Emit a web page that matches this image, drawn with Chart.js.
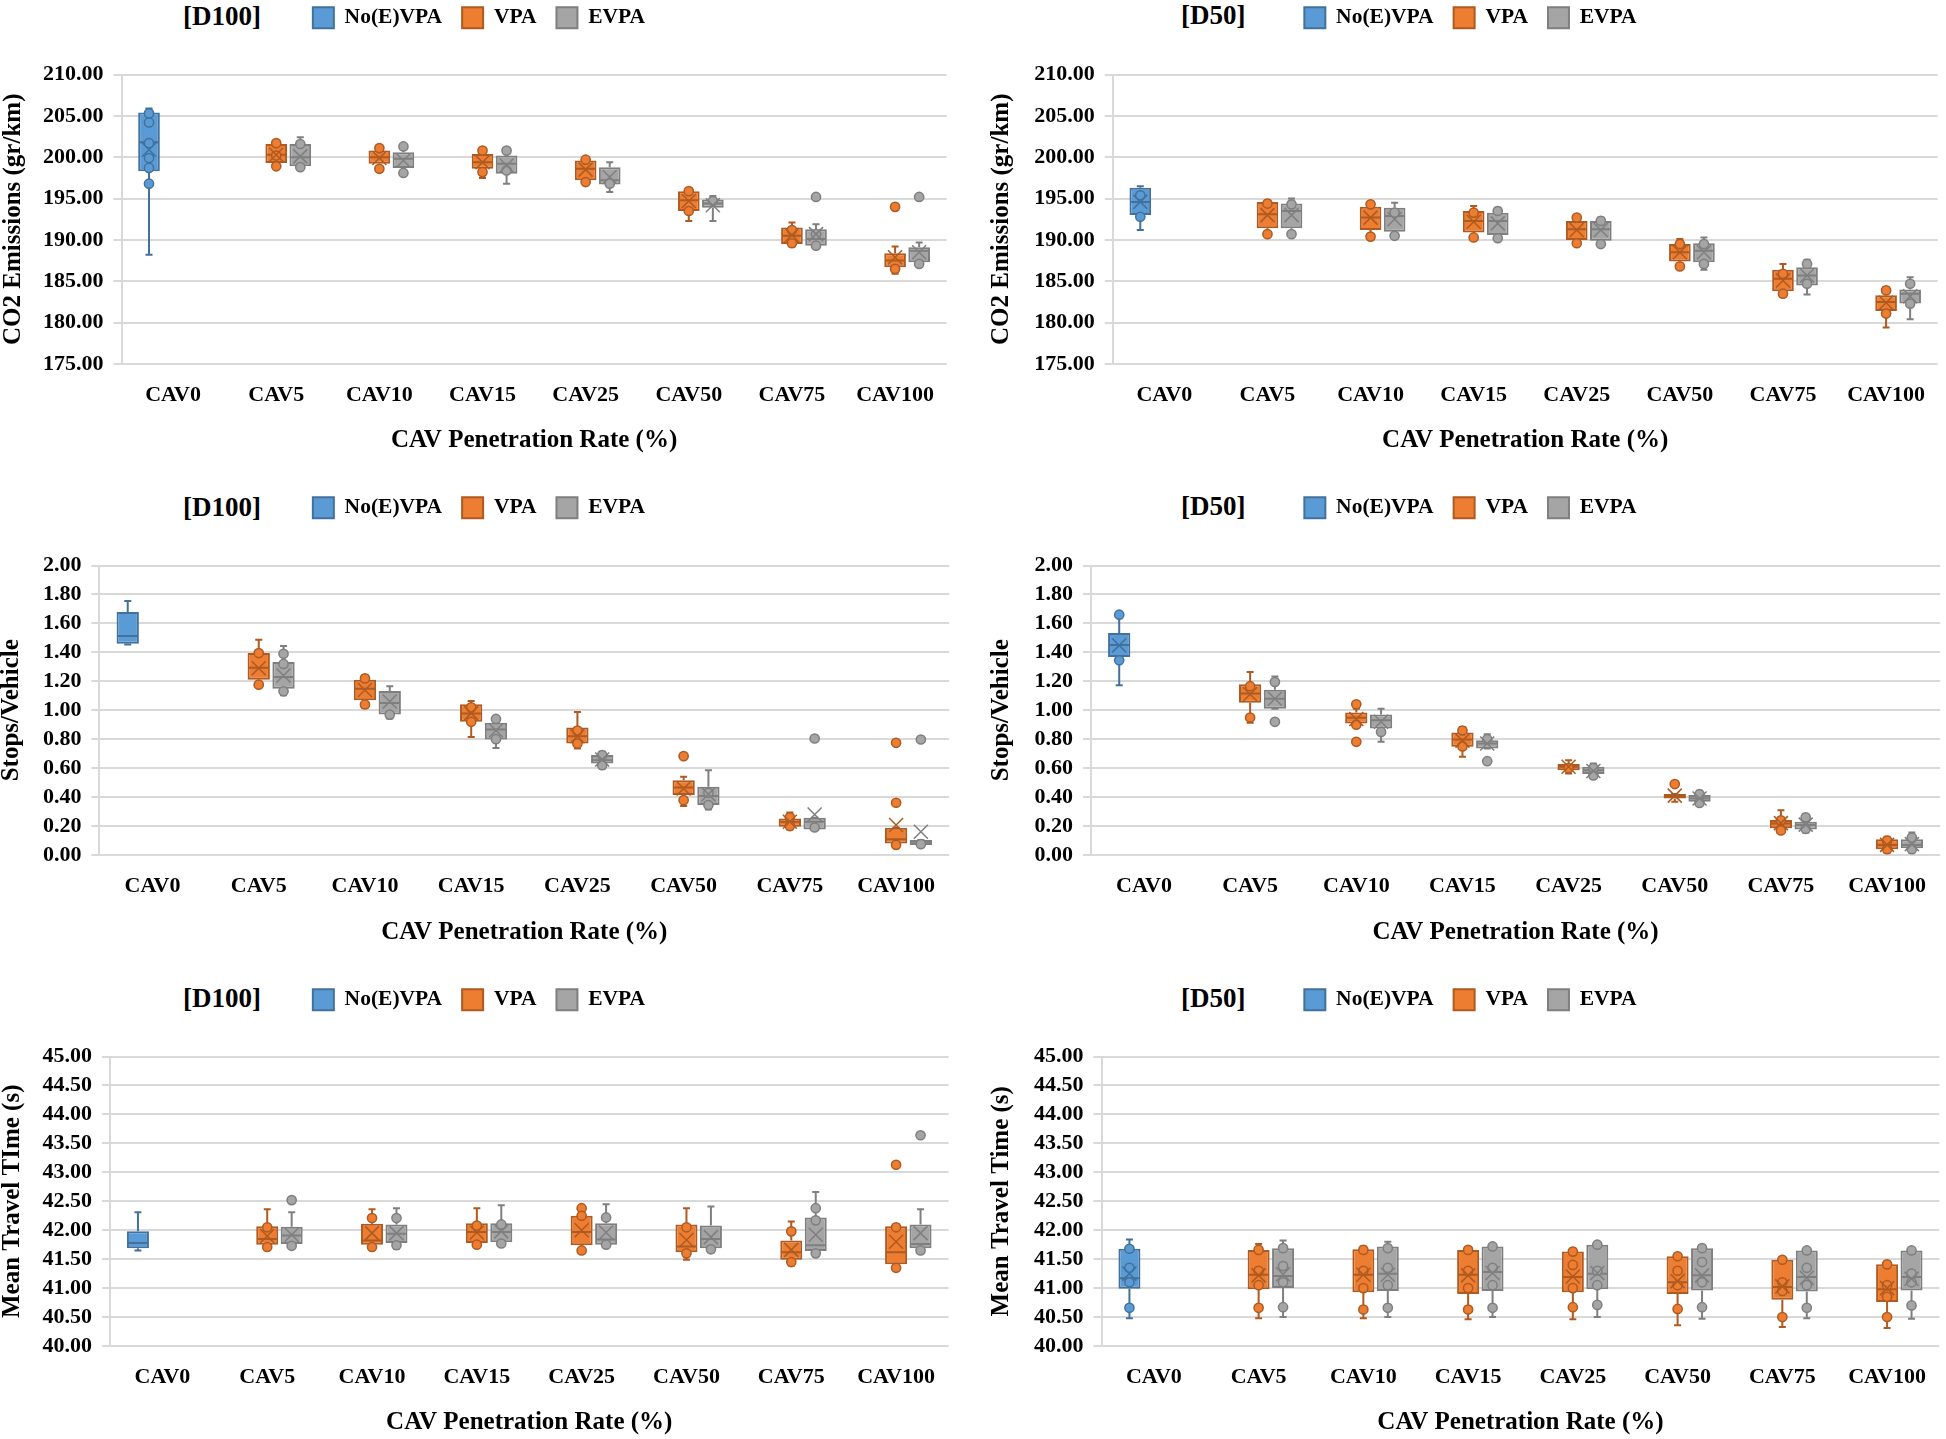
<!DOCTYPE html>
<html>
<head>
<meta charset="utf-8">
<script src="https://cdn.jsdelivr.net/npm/chart.js@4.4.1/dist/chart.umd.min.js"></script>
<style>
  body { margin: 0; background: #fff; }
  #page { position: relative; width: 1946px; height: 1439px; overflow: hidden; background: #fff; }
  canvas { position: absolute; }
  .tag { position: absolute; font: bold 27px "Liberation Serif", "Times New Roman", serif; line-height: 27px; color: #000; white-space: nowrap; }
</style>
</head>
<body>
<div id="page">
  <div class="tag" style="left:183px;top:3px">[D100]</div>
  <div class="tag" style="left:1181px;top:2px">[D50]</div>
  <div class="tag" style="left:183px;top:494px">[D100]</div>
  <div class="tag" style="left:1181px;top:493px">[D50]</div>
  <div class="tag" style="left:183px;top:985px">[D100]</div>
  <div class="tag" style="left:1181px;top:985px">[D50]</div>
  <canvas id="co2D100"></canvas>
  <canvas id="co2D50"></canvas>
  <canvas id="stopsD100"></canvas>
  <canvas id="stopsD50"></canvas>
  <canvas id="ttD100"></canvas>
  <canvas id="ttD50"></canvas>
</div>
<script>
const categories = ["CAV0", "CAV5", "CAV10", "CAV15", "CAV25", "CAV50", "CAV75", "CAV100"];
const seriesNames = ["No(E)VPA", "VPA", "EVPA"];

// box rows: [min, q1, median, q3, max, mean]
const co2D100Base = [[188.2, 198.3, 201.8, 205.4, 205.9, 200.9], null, null, null, null, null, null, null];
const co2D100Vpa = [null, [198.8, 199.3, 200.3, 201.6, 201.9, 200.3], [198.2, 199.2, 200.0, 200.8, 201.2, 199.9], [197.5, 198.6, 199.4, 200.4, 200.9, 199.4], [196.8, 197.2, 198.6, 199.6, 199.8, 198.5], [192.3, 193.5, 194.8, 195.9, 196.0, 194.7], [189.2, 189.5, 190.5, 191.5, 192.1, 190.6], [185.9, 186.7, 187.5, 188.4, 189.2, 187.9]];
const co2D100Evpa = [null, [198.6, 198.9, 200.0, 201.6, 202.4, 200.1], [198.0, 198.7, 199.8, 200.6, 201.3, 199.6], [196.8, 198.0, 199.2, 200.2, 200.8, 199.0], [195.8, 196.7, 197.2, 198.8, 199.4, 197.6], [192.3, 193.9, 194.4, 194.9, 195.3, 194.2], [189.1, 189.3, 190.1, 191.3, 191.9, 190.7], [186.9, 187.3, 188.7, 189.1, 189.7, 188.5]];
const co2D100BasePts = [[196.8, 198.7, 199.9, 201.7, 204.2, 205.3], [], [], [], [], [], [], []];
const co2D100VpaPts = [[], [201.7, 198.9, 200.2], [201.1, 198.6], [200.8, 198.2], [199.7, 197.0], [195.9, 193.5], [191.2, 189.6], [194.0, 186.5]];
const co2D100EvpaPts = [[], [201.6, 198.8], [201.3, 198.1], [200.8, 198.4], [196.8], [194.7], [195.2, 190.7, 189.3], [195.2, 187.1]];

const co2D50Base = [[191.2, 193.0, 194.6, 196.3, 196.5, 194.6], null, null, null, null, null, null, null];
const co2D50Vpa = [null, [190.7, 191.4, 193.1, 194.6, 194.8, 193.0], [190.4, 191.2, 192.7, 194.0, 194.4, 192.7], [190.3, 190.9, 192.3, 193.5, 194.1, 192.2], [189.6, 190.0, 191.3, 192.3, 192.9, 191.2], [186.5, 187.4, 188.5, 189.5, 190.1, 188.5], [183.1, 183.8, 185.3, 186.4, 187.1, 185.1], [179.4, 181.4, 182.5, 183.3, 184.3, 182.4]];
const co2D50Evpa = [null, [190.6, 191.4, 193.5, 194.4, 195.0, 193.0], [190.5, 191.0, 192.9, 193.9, 194.5, 192.5], [190.2, 190.6, 192.3, 193.3, 193.9, 192.0], [189.5, 189.9, 191.3, 192.3, 192.7, 191.2], [186.4, 187.3, 188.7, 189.6, 190.3, 188.5], [183.4, 184.5, 185.7, 186.7, 187.6, 185.7], [180.4, 182.3, 183.5, 184.0, 185.5, 183.2]];
const co2D50BasePts = [[195.4, 192.8], [], [], [], [], [], [], []];
const co2D50VpaPts = [[], [194.4, 190.7], [194.3, 190.4], [193.3, 190.3], [192.7, 189.6], [189.5, 186.8], [185.9, 183.5], [183.9, 181.1]];
const co2D50EvpaPts = [[], [194.3, 190.7], [193.3, 190.5], [193.5, 190.2], [192.3, 189.5], [189.5, 187.1], [187.1, 184.7], [184.7, 182.3]];

const stopsD100Base = [[1.455, 1.46, 1.513, 1.678, 1.754, null], null, null, null, null, null, null, null];
const stopsD100Vpa = [null, [1.17, 1.211, 1.294, 1.395, 1.487, 1.29], [1.016, 1.069, 1.149, 1.211, 1.241, 1.14], [0.816, 0.92, 0.977, 1.041, 1.064, 0.98], [0.736, 0.77, 0.821, 0.88, 0.988, 0.82], [0.338, 0.414, 0.467, 0.517, 0.54, 0.46], [0.177, 0.195, 0.23, 0.253, 0.294, 0.23], [0.057, 0.08, 0.108, 0.188, 0.188, 0.207]];
const stopsD100Evpa = [null, [1.103, 1.149, 1.23, 1.333, 1.444, 1.24], [0.943, 0.97, 1.05, 1.133, 1.166, 1.06], [0.74, 0.798, 0.867, 0.913, 0.949, 0.86], [0.598, 0.632, 0.655, 0.69, 0.713, 0.66], [0.315, 0.345, 0.407, 0.471, 0.586, 0.42], [0.177, 0.177, 0.23, 0.257, 0.257, 0.28], [0.06, 0.069, 0.092, 0.103, 0.103, 0.161]];
const stopsD100BasePts = [[], [], [], [], [], [], [], []];
const stopsD100VpaPts = [[], [1.395, 1.177], [1.22, 1.04], [1.02, 0.92], [0.86, 0.77], [0.683, 0.379], [0.26, 0.2], [0.775, 0.361, 0.07]];
const stopsD100EvpaPts = [[], [1.39, 1.32, 1.131], [0.97], [0.94, 0.8], [0.69, 0.62], [0.43, 0.345], [0.805, 0.19], [0.798, 0.075]];

const stopsD50Base = [[1.172, 1.368, 1.45, 1.533, 1.66, 1.448], null, null, null, null, null, null, null];
const stopsD50Vpa = [null, [0.913, 1.051, 1.115, 1.179, 1.264, 1.11], [0.885, 0.908, 0.949, 0.984, 1.011, 0.94], [0.678, 0.747, 0.798, 0.846, 0.885, 0.79], [0.563, 0.586, 0.609, 0.628, 0.655, 0.61], [0.368, 0.391, 0.407, 0.421, 0.421, 0.41], [0.154, 0.184, 0.218, 0.241, 0.31, 0.22], [0.016, 0.039, 0.069, 0.108, 0.126, 0.07]];
const stopsD50Evpa = [null, [1.011, 1.011, 1.08, 1.142, 1.234, 1.08], [0.782, 0.874, 0.931, 0.97, 1.011, 0.92], [0.736, 0.736, 0.77, 0.793, 0.834, 0.77], [0.529, 0.559, 0.586, 0.609, 0.632, 0.58], [0.345, 0.368, 0.391, 0.414, 0.444, 0.39], [0.156, 0.177, 0.207, 0.23, 0.281, 0.21], [0.016, 0.046, 0.069, 0.108, 0.156, 0.075]];
const stopsD50BasePts = [[1.66, 1.345], [], [], [], [], [], [], []];
const stopsD50VpaPts = [[], [1.166, 0.95], [1.041, 0.782, 0.9], [0.86, 0.75], [0.6], [0.49], [0.24, 0.17], [0.1, 0.04]];
const stopsD50EvpaPts = [[], [1.195, 0.92], [0.85], [0.8, 0.648], [0.6, 0.55], [0.42, 0.36], [0.26, 0.18], [0.12, 0.04]];

const ttD100Base = [[41.65, 41.69, 41.78, 41.98, 42.31, null], null, null, null, null, null, null, null];
const ttD100Vpa = [null, [41.66, 41.75, 41.85, 42.07, 42.36, 41.9], [41.68, 41.75, 41.82, 42.11, 42.36, 41.95], [41.72, 41.78, 41.97, 42.12, 42.38, 41.96], [41.61, 41.74, 41.97, 42.25, 42.38, 42.0], [41.49, 41.62, 41.72, 42.1, 42.38, 41.83], [41.39, 41.49, 41.62, 41.82, 42.15, 41.66], [41.3, 41.41, 41.62, 42.07, 42.1, 41.8]];
const ttD100Evpa = [null, [41.71, 41.76, 41.91, 42.06, 42.31, 41.92], [41.68, 41.78, 41.94, 42.1, 42.38, 41.95], [41.74, 41.79, 41.97, 42.12, 42.43, 41.98], [41.71, 41.75, 41.84, 42.12, 42.45, 41.96], [41.62, 41.69, 41.85, 42.08, 42.41, 41.88], [41.56, 41.64, 41.74, 42.22, 42.66, 41.92], [41.6, 41.69, 41.76, 42.1, 42.36, 41.95]];
const ttD100BasePts = [[], [], [], [], [], [], [], []];
const ttD100VpaPts = [[], [42.05, 41.71], [42.21, 41.71], [42.08, 41.75], [42.38, 42.25, 41.65], [42.05, 41.6], [41.98, 41.45], [43.13, 42.05, 41.35]];
const ttD100EvpaPts = [[], [42.52, 41.73], [42.21, 41.74], [42.1, 41.77], [42.22, 41.75], [41.67], [42.38, 42.17, 41.6], [43.64, 41.65]];

const ttD50Base = [[40.48, 40.99, 41.17, 41.68, 41.84, 41.25], null, null, null, null, null, null, null];
const ttD50Vpa = [null, [40.48, 40.98, 41.23, 41.66, 41.76, 41.22], [40.48, 40.93, 41.23, 41.67, 41.72, 41.23], [40.46, 40.9, 41.23, 41.66, 41.71, 41.22], [40.46, 40.93, 41.19, 41.63, 41.68, 41.2], [40.36, 40.9, 41.1, 41.55, 41.59, 41.12], [40.33, 40.8, 41.02, 41.49, 41.53, 41.03], [40.31, 40.76, 40.98, 41.41, 41.46, 41.0]];
const ttD50Evpa = [null, [40.5, 41.0, 41.21, 41.69, 41.82, 41.24], [40.5, 40.95, 41.25, 41.72, 41.8, 41.23], [40.5, 40.95, 41.28, 41.72, 41.75, 41.26], [40.5, 40.98, 41.25, 41.75, 41.76, 41.26], [40.47, 40.96, 41.22, 41.69, 41.74, 41.22], [40.48, 40.94, 41.19, 41.65, 41.69, 41.18], [40.47, 40.96, 41.19, 41.65, 41.68, 41.16]];
const ttD50BasePts = [[41.68, 41.35, 41.1, 40.66], [], [], [], [], [], [], []];
const ttD50VpaPts = [[], [41.66, 41.3, 41.05, 40.66], [41.66, 41.3, 41.0, 40.63], [41.66, 41.3, 41.0, 40.63], [41.63, 41.4, 41.0, 40.67], [41.55, 41.3, 41.05, 40.64], [41.49, 41.1, 40.95, 40.5], [41.41, 41.05, 40.85, 40.5]];
const ttD50EvpaPts = [[], [41.69, 41.38, 41.1, 40.67], [41.69, 41.35, 41.05, 40.66], [41.72, 41.35, 41.05, 40.66], [41.75, 41.3, 41.05, 40.71], [41.69, 41.45, 41.1, 40.67], [41.65, 41.35, 41.05, 40.66], [41.65, 41.25, 41.1, 40.7]];

const fills = ["#5B9BD5", "#ED7D31", "#A5A5A5"];
const strokes = ["#41719C", "#AE5A21", "#7F7F7F"];

Chart.defaults.font.family = '"Liberation Serif", "Times New Roman", serif';
Chart.defaults.color = "#000";

// whiskers, median, mean cross and points on top of the floating bars
const boxWhisker = {
  id: "boxWhisker",
  afterDatasetsDraw(chart) {
    const ctx = chart.ctx;
    const ys = chart.scales.y;
    chart.data.datasets.forEach((ds, i) => {
      const meta = chart.getDatasetMeta(i);
      ds.stats.forEach((s, j) => {
        if (!s) return;
        const bar = meta.data[j];
        const x = bar.x, hw = bar.width / 2;
        const [mn, q1, md, q3, mx, mean] = s.map(v => (v == null ? null : ys.getPixelForValue(v)));
        ctx.save();
        ctx.strokeStyle = ds.borderColor;
        ctx.lineWidth = 2;
        ctx.beginPath();
        ctx.moveTo(x, q3); ctx.lineTo(x, mx);
        ctx.moveTo(x - 3.5, mx); ctx.lineTo(x + 3.5, mx);
        ctx.moveTo(x, q1); ctx.lineTo(x, mn);
        ctx.moveTo(x - 3.5, mn); ctx.lineTo(x + 3.5, mn);
        ctx.moveTo(x - hw + 1, md); ctx.lineTo(x + hw - 1, md);
        ctx.stroke();
        ctx.fillStyle = ds.backgroundColor;
        ctx.lineWidth = 1.5;
        ds.points[j].forEach(v => {
          ctx.beginPath();
          ctx.arc(x, ys.getPixelForValue(v), 4.6, 0, Math.PI * 2);
          ctx.fill();
          ctx.stroke();
        });
        if (mean != null) {
          const r = 7;
          ctx.beginPath();
          ctx.moveTo(x - r, mean - r); ctx.lineTo(x + r, mean + r);
          ctx.moveTo(x + r, mean - r); ctx.lineTo(x - r, mean + r);
          ctx.stroke();
        }
        ctx.restore();
      });
    });
  },
};

const panels = [
  { id: "co2D100", left: 0, top: -13, width: 952, height: 472, pl: 6, yw: 115.5, yPad: -7, spacer: 36, xh: 95, xPad: 3,
    min: 175, max: 210, step: 5, yTitle: "CO2 Emissions (gr/km)",
    boxes: [co2D100Base, co2D100Vpa, co2D100Evpa], pts: [co2D100BasePts, co2D100VpaPts, co2D100EvpaPts] },
  { id: "co2D50", left: 976, top: -13, width: 967, height: 472, pl: 22, yw: 114.8, yPad: -11, spacer: 36, xh: 95, xPad: 3,
    min: 175, max: 210, step: 5, yTitle: "CO2 Emissions (gr/km)",
    boxes: [co2D50Base, co2D50Vpa, co2D50Evpa], pts: [co2D50BasePts, co2D50VpaPts, co2D50EvpaPts] },
  { id: "stopsD100", left: 0, top: 477, width: 953, height: 473, pl: 5, yw: 94.4, yPad: -8, spacer: 37, xh: 95, xPad: 2.5,
    min: 0, max: 2, step: 0.2, yTitle: "Stops/Vehicle",
    boxes: [stopsD100Base, stopsD100Vpa, stopsD100Evpa], pts: [stopsD100BasePts, stopsD100VpaPts, stopsD100EvpaPts] },
  { id: "stopsD50", left: 976, top: 477, width: 968, height: 473, pl: 21, yw: 93.9, yPad: -10, spacer: 37, xh: 95, xPad: 2.5,
    min: 0, max: 2, step: 0.2, yTitle: "Stops/Vehicle",
    boxes: [stopsD50Base, stopsD50Vpa, stopsD50Evpa], pts: [stopsD50BasePts, stopsD50VpaPts, stopsD50EvpaPts] },
  { id: "ttD100", left: 0, top: 969, width: 953, height: 470, pl: 5, yw: 105, yPad: -7, spacer: 36, xh: 93, xPad: 1,
    min: 40, max: 45, step: 0.5, yTitle: "Mean Travel TIme (s)",
    boxes: [ttD100Base, ttD100Vpa, ttD100Evpa], pts: [ttD100BasePts, ttD100VpaPts, ttD100EvpaPts] },
  { id: "ttD50", left: 976, top: 969, width: 968, height: 470, pl: 21, yw: 104.5, yPad: -10, spacer: 36, xh: 93, xPad: 1,
    min: 40, max: 45, step: 0.5, yTitle: "Mean Travel Time (s)",
    boxes: [ttD50Base, ttD50Vpa, ttD50Evpa], pts: [ttD50BasePts, ttD50VpaPts, ttD50EvpaPts] },
];

panels.forEach(p => {
  const canvas = document.getElementById(p.id);
  canvas.width = p.width;
  canvas.height = p.height;
  canvas.style.left = p.left + "px";
  canvas.style.top = p.top + "px";

  const datasets = seriesNames.map((name, k) => ({
    label: name,
    data: p.boxes[k].map(b => (b ? [b[1], b[3]] : null)),
    stats: p.boxes[k],
    points: p.pts[k],
    backgroundColor: fills[k],
    borderColor: strokes[k],
    borderWidth: 2,
    borderSkipped: false,
    categoryPercentage: 0.7,
    barPercentage: 0.9,
  }));

  new Chart(canvas, {
    type: "bar",
    data: { labels: categories, datasets },
    options: {
      responsive: false,
      animation: false,
      devicePixelRatio: 1,
      layout: { padding: { left: p.pl, right: 0, top: 0, bottom: 0 } },
      plugins: {
        legend: {
          position: "top",
          align: "center",
          labels: { boxWidth: 21, boxHeight: 21, padding: 20, color: "#000", font: { size: 21.5, weight: "bold" } },
        },
        // empty title used as a gap between legend and plot
        title: { display: true, text: "", weight: 500, font: { size: 10, lineHeight: 1 }, padding: { top: 0, bottom: p.spacer - 10 } },
        tooltip: { enabled: false },
      },
      scales: {
        x: {
          grid: { display: false, drawTicks: false },
          border: { display: false },
          ticks: { font: { size: 22, weight: "bold" }, color: "#000", padding: 18, autoSkip: false, maxRotation: 0 },
          title: { display: true, text: "CAV Penetration Rate (%)", color: "#000", font: { size: 25, weight: "bold" }, padding: { top: 0, bottom: p.xPad } },
          afterFit: s => { s.height = p.xh; },
        },
        y: {
          min: p.min,
          max: p.max,
          ticks: { stepSize: p.step, autoSkip: false, padding: 10, color: "#000", font: { size: 22, weight: "bold" }, callback: v => Number(v).toFixed(2) },
          grid: { color: "#D9D9D9", lineWidth: 2, tickLength: 8 },
          border: { color: "#D9D9D9", width: 2 },
          title: { display: true, text: p.yTitle, color: "#000", font: { size: 25, weight: "bold" }, padding: { top: p.yPad, bottom: 0 } },
          afterFit: s => { s.width = p.yw; },
        },
      },
    },
    plugins: [boxWhisker],
  });
});
</script>
</body>
</html>
